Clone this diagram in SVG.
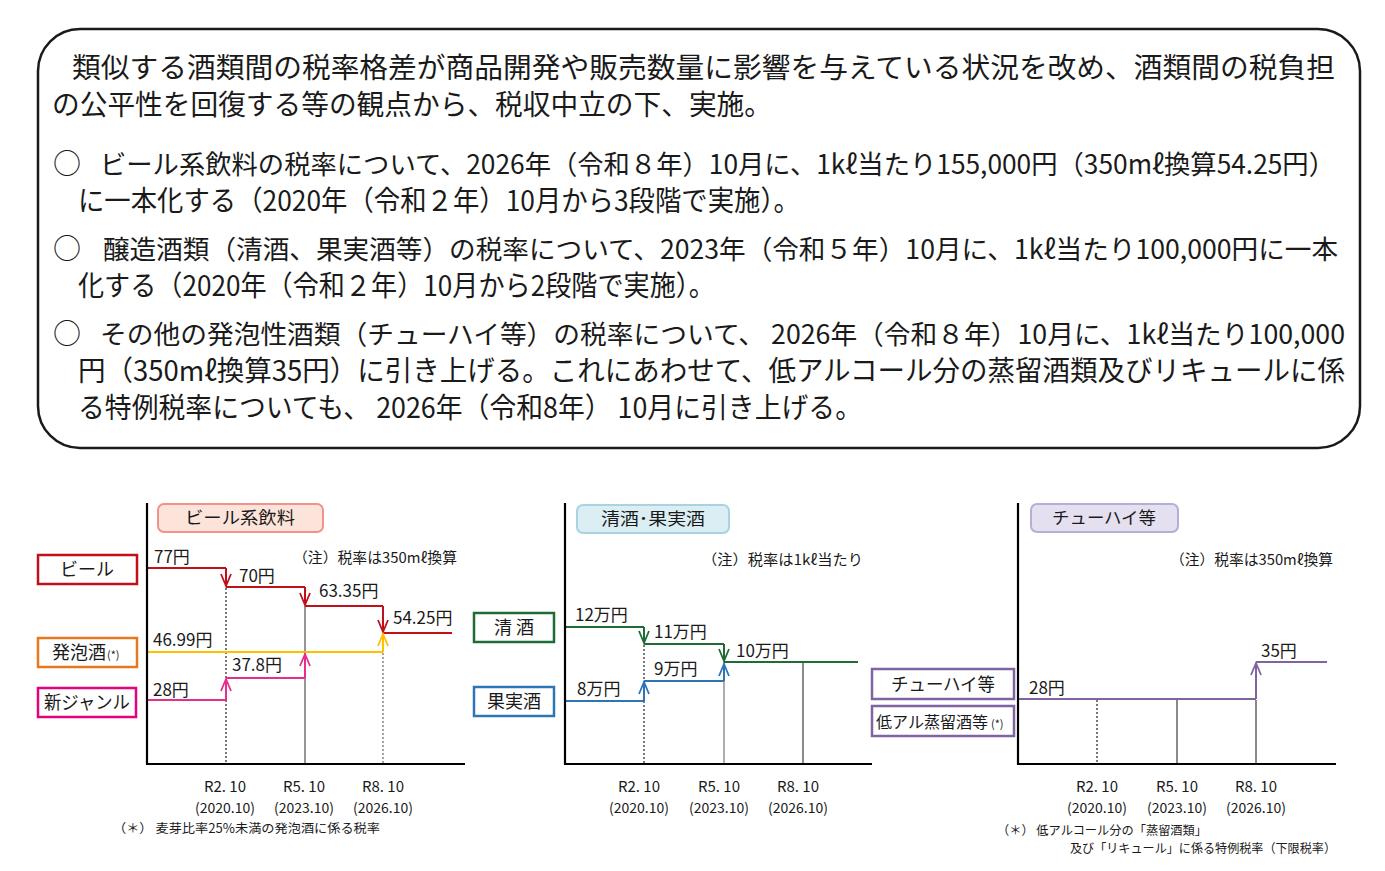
<svg xmlns="http://www.w3.org/2000/svg" width="1385" height="871" viewBox="0 0 1385 871">
<defs>
<style>
text{font-family:"Noto Sans CJK JP","Noto Sans",sans-serif;fill:#1a1a1a}
.main{font-size:28px}
.lng{font-size:26.5px}
.val{font-size:17px}
.leg{font-size:18px;text-anchor:middle}
.ttl{font-size:17px;text-anchor:middle}
.note{font-size:14.5px}
.ax{font-size:15px;text-anchor:middle}
.ax2{font-size:14px;text-anchor:middle}
.fn{font-size:12.5px}
.sm{font-size:11px}
.st{fill:none;stroke-width:2}
.dot{fill:none;stroke:#222;stroke-width:1.2;stroke-dasharray:2,2}
.gray{fill:none;stroke:#8a8a8a;stroke-width:1.8}
.axis{fill:none;stroke:#000;stroke-width:2.2}
</style>
<marker id="aR" markerWidth="16" markerHeight="12" refX="0" refY="0" viewBox="-13 -6 16 12" orient="auto" markerUnits="userSpaceOnUse"><path d="M-12,-5 L0,0 L-12,5" fill="none" stroke="#c0101a" stroke-width="1.8"/></marker>
<marker id="aY" markerWidth="16" markerHeight="12" refX="0" refY="0" viewBox="-13 -6 16 12" orient="auto" markerUnits="userSpaceOnUse"><path d="M-12,-5 L0,0 L-12,5" fill="none" stroke="#ffc000" stroke-width="1.8"/></marker>
<marker id="aP" markerWidth="16" markerHeight="12" refX="0" refY="0" viewBox="-13 -6 16 12" orient="auto" markerUnits="userSpaceOnUse"><path d="M-12,-5 L0,0 L-12,5" fill="none" stroke="#e62e8b" stroke-width="1.8"/></marker>
<marker id="aG" markerWidth="16" markerHeight="12" refX="0" refY="0" viewBox="-13 -6 16 12" orient="auto" markerUnits="userSpaceOnUse"><path d="M-12,-5 L0,0 L-12,5" fill="none" stroke="#1f6b35" stroke-width="1.8"/></marker>
<marker id="aB" markerWidth="16" markerHeight="12" refX="0" refY="0" viewBox="-13 -6 16 12" orient="auto" markerUnits="userSpaceOnUse"><path d="M-12,-5 L0,0 L-12,5" fill="none" stroke="#2e75b6" stroke-width="1.8"/></marker>
<marker id="aV" markerWidth="16" markerHeight="12" refX="0" refY="0" viewBox="-13 -6 16 12" orient="auto" markerUnits="userSpaceOnUse"><path d="M-12,-5 L0,0 L-12,5" fill="none" stroke="#8064a2" stroke-width="1.8"/></marker>
</defs>
<rect width="1385" height="871" fill="#fff"/>

<g id="summary">
<rect x="38" y="29" width="1322" height="419" rx="42" ry="42" fill="#fff" stroke="#1a1a1a" stroke-width="2.5"/>
<text class="main" x="72" y="78" textLength="1263" lengthAdjust="spacingAndGlyphs">類似する酒類間の税率格差が商品開発や販売数量に影響を与えている状況を改め、酒類間の税負担</text>
<text class="main" x="52" y="115" textLength="720" lengthAdjust="spacingAndGlyphs">の公平性を回復する等の観点から、税収中立の下、実施。</text>
<text class="main" x="53" y="174">○</text>
<text class="lng" x="100" y="174" textLength="1235" lengthAdjust="spacingAndGlyphs">ビール系飲料の税率について、2026年（令和８年）10月に、1kℓ当たり155,000円（350mℓ換算54.25円）</text>
<text class="main" x="78" y="211" textLength="722" lengthAdjust="spacingAndGlyphs">に一本化する（2020年（令和２年）10月から3段階で実施）。</text>
<text class="main" x="53" y="259">○</text>
<text class="lng" x="103" y="259" textLength="1235" lengthAdjust="spacingAndGlyphs">醸造酒類（清酒、果実酒等）の税率について、2023年（令和５年）10月に、1kℓ当たり100,000円に一本</text>
<text class="main" x="78" y="296" textLength="637" lengthAdjust="spacingAndGlyphs">化する（2020年（令和２年）10月から2段階で実施）。</text>
<text class="main" x="53" y="344">○</text>
<text class="lng" x="100" y="344" textLength="1245" lengthAdjust="spacingAndGlyphs">その他の発泡性酒類（チューハイ等）の税率について、 2026年（令和８年）10月に、1kℓ当たり100,000</text>
<text class="main" x="78" y="381" textLength="1267" lengthAdjust="spacingAndGlyphs">円（350mℓ換算35円）に引き上げる。これにあわせて、低アルコール分の蒸留酒類及びリキュールに係</text>
<text class="main" x="78" y="418" textLength="784" lengthAdjust="spacingAndGlyphs">る特例税率についても、 2026年（令和8年） 10月に引き上げる。</text>
</g>

<g id="connectors">
<path class="dot" d="M226,588 V763"/>
<path class="gray" d="M305,606 V763"/>
<path class="dot" d="M383,653 V763" style="stroke:#666"/>
<path class="st" stroke="#c0101a" d="M147,568 H226"/>
<path class="st" stroke="#c0101a" d="M226,568 V586" marker-end="url(#aR)"/>
<path class="st" stroke="#c0101a" d="M226,587 H305"/>
<path class="st" stroke="#c0101a" d="M305,587 V605" marker-end="url(#aR)"/>
<path class="st" stroke="#c0101a" d="M305,606 H383"/>
<path class="st" stroke="#c0101a" d="M383,606 V632" marker-end="url(#aR)"/>
<path class="st" stroke="#c0101a" d="M383,633 H452"/>
<path class="st" stroke="#ffc000" d="M147,652 H383"/>
<path class="st" stroke="#ffc000" d="M383,652 V634" marker-end="url(#aY)"/>
<path class="st" stroke="#e62e8b" d="M147,700 H226"/>
<path class="st" stroke="#e62e8b" d="M226,700 V679" marker-end="url(#aP)"/>
<path class="st" stroke="#e62e8b" d="M226,678 H305"/>
<path class="st" stroke="#e62e8b" d="M305,678 V654" marker-end="url(#aP)"/>
<path class="axis" d="M147,503 V764 H465"/>
<path class="dot" d="M644,645 V763"/>
<path class="gray" d="M724,662 V763" style="stroke-width:1.4"/>
<path class="gray" d="M803,662 V763" style="stroke-width:2"/>
<path class="st" stroke="#1f6b35" d="M565,627 H644"/>
<path class="st" stroke="#1f6b35" d="M644,627 V643" marker-end="url(#aG)"/>
<path class="st" stroke="#1f6b35" d="M644,644 H724"/>
<path class="st" stroke="#1f6b35" d="M724,644 V661" marker-end="url(#aG)"/>
<path class="st" stroke="#1f6b35" d="M724,662 H858"/>
<path class="st" stroke="#2e75b6" d="M565,701 H644"/>
<path class="st" stroke="#2e75b6" d="M644,701 V682" marker-end="url(#aB)"/>
<path class="st" stroke="#2e75b6" d="M644,681 H724"/>
<path class="st" stroke="#2e75b6" d="M724,681 V664" marker-end="url(#aB)"/>
<path class="axis" d="M565,503 V764 H872"/>
<path class="dot" d="M1097,700 V763"/>
<path class="gray" d="M1177,700 V763" style="stroke-width:2"/>
<path class="gray" d="M1256,700 V763" style="stroke-width:2"/>
<path class="st" stroke="#8064a2" d="M1018,699 H1256"/>
<path class="st" stroke="#8064a2" d="M1256,699 V663" marker-end="url(#aV)"/>
<path class="st" stroke="#8064a2" d="M1256,662 H1327"/>
<path class="axis" d="M1018,503 V764 H1336"/>
</g>

<g id="beer-chart">
<rect x="158" y="504" width="165" height="28" rx="6" fill="#fde4da" stroke="#f3928c" stroke-width="2"/>
<text class="ttl" x="240" y="524" textLength="110" lengthAdjust="spacingAndGlyphs">ビール系飲料</text>
<text class="note" x="293" y="563" textLength="164" lengthAdjust="spacingAndGlyphs">（注）税率は350mℓ換算</text>
<text class="val" x="154" y="563">77円</text>
<text class="val" x="239" y="582">70円</text>
<text class="val" x="319" y="597">63.35円</text>
<text class="val" x="393" y="624">54.25円</text>
<text class="val" x="153" y="646">46.99円</text>
<text class="val" x="232" y="671">37.8円</text>
<text class="val" x="153" y="696">28円</text>
<text class="ax" x="225" y="792">R2. 10</text>
<text class="ax2" x="225" y="813">(2020.10)</text>
<text class="ax" x="304" y="792">R5. 10</text>
<text class="ax2" x="304" y="813">(2023.10)</text>
<text class="ax" x="383" y="792">R8. 10</text>
<text class="ax2" x="383" y="813">(2026.10)</text>
<text class="fn" x="113" y="833" textLength="267" lengthAdjust="spacingAndGlyphs">（＊） 麦芽比率25%未満の発泡酒に係る税率</text>
</g>
<g id="legend-beer">
<rect x="38" y="555" width="99" height="29" fill="#fff" stroke="#c0101a" stroke-width="2.5"/>
<text class="leg" x="87" y="576">ビール</text>
</g>
<g id="legend-happoshu">
<rect x="38" y="638" width="99" height="29" fill="#fff" stroke="#e8781e" stroke-width="2.5"/>
<text class="leg" x="79" y="659">発泡酒</text>
<text class="sm" x="107" y="659">(*)</text>
</g>
<g id="legend-shingenre">
<rect x="38" y="688" width="98" height="29" fill="#fff" stroke="#e6007e" stroke-width="2.5"/>
<text class="leg" x="87" y="709" textLength="86" lengthAdjust="spacingAndGlyphs">新ジャンル</text>
</g>

<g id="sake-chart">
<rect x="577" y="505" width="152" height="28" rx="6" fill="#dbeef4" stroke="#a9d2e3" stroke-width="2"/>
<text class="ttl" x="653" y="525" textLength="104" lengthAdjust="spacingAndGlyphs">清酒･果実酒</text>
<text class="note" x="702" y="565" textLength="161" lengthAdjust="spacingAndGlyphs">（注）税率は1kℓ当たり</text>
<text class="val" x="575" y="621">12万円</text>
<text class="val" x="654" y="638">11万円</text>
<text class="val" x="736" y="657">10万円</text>
<text class="val" x="654" y="675">9万円</text>
<text class="val" x="577" y="695">8万円</text>
<text class="ax" x="639" y="792">R2. 10</text>
<text class="ax2" x="639" y="813">(2020.10)</text>
<text class="ax" x="719" y="792">R5. 10</text>
<text class="ax2" x="719" y="813">(2023.10)</text>
<text class="ax" x="798" y="792">R8. 10</text>
<text class="ax2" x="798" y="813">(2026.10)</text>
</g>
<g id="legend-sake">
<rect x="474" y="613" width="80" height="29" fill="#fff" stroke="#1f6b35" stroke-width="2.5"/>
<text class="leg" x="514" y="634">清 酒</text>
</g>
<g id="legend-fruit">
<rect x="474" y="687" width="80" height="29" fill="#fff" stroke="#2e75b6" stroke-width="2.5"/>
<text class="leg" x="514" y="708">果実酒</text>
</g>

<g id="chuhai-chart">
<rect x="1031" y="504" width="147" height="28" rx="6" fill="#e5e0f0" stroke="#b8acd8" stroke-width="2"/>
<text class="ttl" x="1104" y="524" textLength="104" lengthAdjust="spacingAndGlyphs">チューハイ等</text>
<text class="note" x="1170" y="565" textLength="163" lengthAdjust="spacingAndGlyphs">（注）税率は350mℓ換算</text>
<text class="val" x="1029" y="694">28円</text>
<text class="val" x="1261" y="657">35円</text>
<text class="ax" x="1097" y="792">R2. 10</text>
<text class="ax2" x="1097" y="813">(2020.10)</text>
<text class="ax" x="1177" y="792">R5. 10</text>
<text class="ax2" x="1177" y="813">(2023.10)</text>
<text class="ax" x="1256" y="792">R8. 10</text>
<text class="ax2" x="1256" y="813">(2026.10)</text>
<text class="fn" x="997" y="835" textLength="210" lengthAdjust="spacingAndGlyphs">（＊） 低アルコール分の「蒸留酒類」</text>
<text class="fn" x="1070" y="853" textLength="266" lengthAdjust="spacingAndGlyphs">及び「リキュール」に係る特例税率（下限税率）</text>
</g>
<g id="legend-chuhai">
<rect x="872" y="669" width="142" height="30" fill="#fff" stroke="#8064a2" stroke-width="2.5"/>
<text class="leg" x="943" y="691" textLength="104" lengthAdjust="spacingAndGlyphs">チューハイ等</text>
</g>
<g id="legend-teiaru">
<rect x="872" y="706" width="142" height="30" fill="#fff" stroke="#8064a2" stroke-width="2.5"/>
<text class="leg" x="932" y="728" style="font-size:16px" textLength="112" lengthAdjust="spacingAndGlyphs">低アル蒸留酒等</text>
<text class="sm" x="991" y="728">(*)</text>
</g>
</svg>
